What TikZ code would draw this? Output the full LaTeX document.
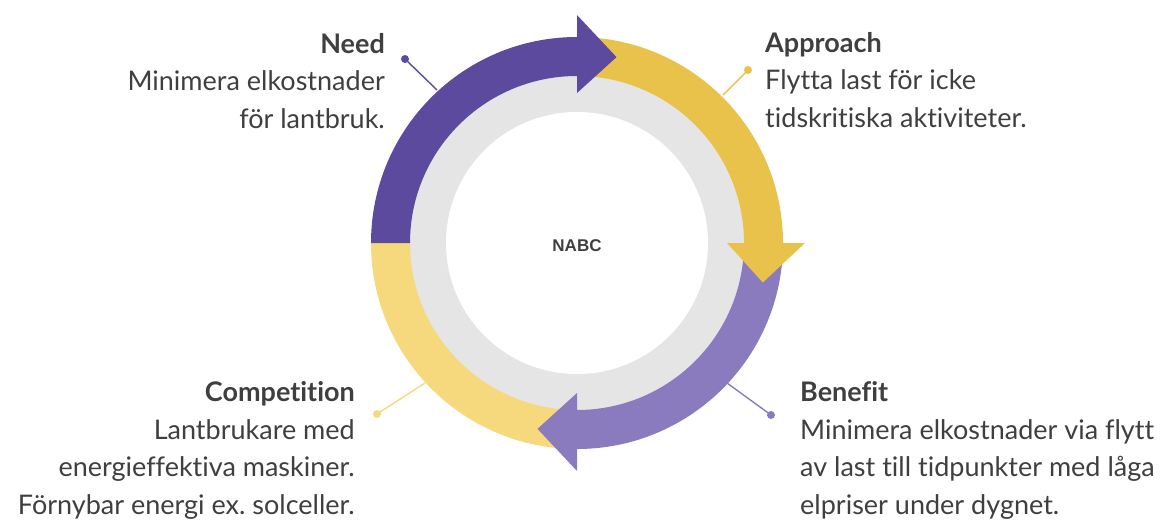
\documentclass[tikz,border=0pt]{standalone}
\usepackage{fontspec}
\setmainfont{Lato}[Ligatures={NoCommon,NoRare,NoContextual}]
\newfontfamily\labelfont{Liberation Sans}
\frenchspacing
\begin{document}
\begin{tikzpicture}[x=1pt,y=1pt,
  txt/.style={text=textgrey,inner sep=0pt,font=\fontsize{27}{37.5}\selectfont},
  leader/.style={line width=1.4pt},
  dotend/.style={circle,inner sep=0pt,minimum size=8pt},
]
\definecolor{textgrey}{HTML}{3F3F3F}
\definecolor{needc}{HTML}{5C4A9E}
\definecolor{apprc}{HTML}{E9C24C}
\definecolor{benc}{HTML}{8A7BBF}
\definecolor{compc}{HTML}{F6D97C}
\definecolor{ringgrey}{HTML}{E5E5E5}
\useasboundingbox (0,0) rectangle (1164,-522);
\coordinate (c) at (577,-243);
% grey ring and white disc
\fill[ringgrey] (c) circle[radius=168];
\fill[white] (c) circle[radius=131];
\node[font=\labelfont\bfseries\fontsize{17}{17}\selectfont,text=textgrey] (nabc) at (577,-246) {NABC};
% the four arrows of the cycle, drawn bottom-up so each head lies on top
\begin{scope}[shift={(c)}]
  % Competition (no head)
  \fill[compc] (-90:206) arc[start angle=-90,end angle=-180,radius=206]
     -- (180:167) arc[start angle=-180,end angle=-90,radius=167] -- cycle;
  % Benefit
  \fill[benc] (0:206) arc[start angle=0,end angle=-90,radius=206]
     -- (-90:228) -- (-102:190) -- (-90:150)
     -- (-90:167) arc[start angle=-90,end angle=0,radius=167] -- cycle;
  % Approach
  \fill[apprc] (90:206) arc[start angle=90,end angle=0,radius=206]
     -- (0:228) -- (-12:190) -- (0:150)
     -- (0:167) arc[start angle=0,end angle=90,radius=167] -- cycle;
  % Need
  \fill[needc] (180:206) arc[start angle=180,end angle=90,radius=206]
     -- (90:228) -- (78:190) -- (90:150)
     -- (90:167) arc[start angle=90,end angle=180,radius=167] -- cycle;
\end{scope}
% leader lines
\node[dotend,fill=needc] (dn) at (405,-59) {};
\coordinate (an) at (437,-90);
\draw[leader,needc] (dn.center) -- (an);
\node[dotend,fill=apprc] (da) at (748,-70) {};
\coordinate (aa) at (723,-95);
\draw[leader,apprc] (da.center) -- (aa);
\node[dotend,fill=compc] (dc) at (377,-414) {};
\coordinate (ac) at (425,-383);
\draw[leader,compc] (dc.center) -- (ac);
\node[dotend,fill=benc] (db) at (771,-415) {};
\coordinate (ab) at (727,-383);
\draw[leader,benc] (db.center) -- (ab);
% text blocks (anchored at the baseline of their last line)
\node[txt,align=right,anchor=base east] (need) at (385,-128)
  {\textbf{Need}\\Minimera elkostnader\\för lantbruk.};
\node[txt,align=left,anchor=base west] (appr) at (765,-127)
  {\textbf{Approach}\\Flytta last för icke\\tidskritiska aktiviteter.};
\node[txt,align=right,anchor=base east] (comp) at (355,-514)
  {\textbf{Competition}\\Lantbrukare med\\energieffektiva maskiner.\\Förnybar energi ex. solceller.};
\node[txt,align=left,anchor=base west] (ben) at (800,-514)
  {\textbf{Benefit}\\Minimera elkostnader via flytt\\av last till tidpunkter med låga\\elpriser under dygnet.};
\end{tikzpicture}
\end{document}
